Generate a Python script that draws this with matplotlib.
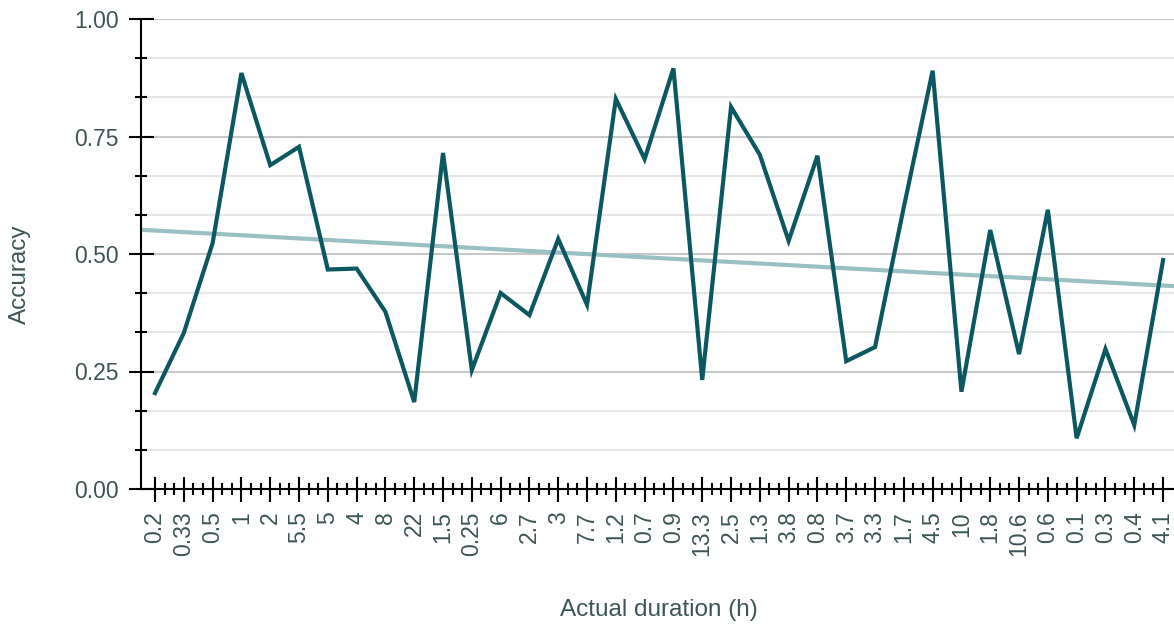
import numpy as np
import matplotlib
matplotlib.use("Agg")
import matplotlib.pyplot as plt
from matplotlib.ticker import FixedLocator

durations = ["0.2", "0.33", "0.5", "1", "2", "5.5", "5", "4", "8", "22",
             "1.5", "0.25", "6", "2.7", "3", "7.7", "1.2", "0.7", "0.9", "13.3",
             "2.5", "1.3", "3.8", "0.8", "3.7", "3.3", "1.7", "4.5", "10", "1.8",
             "10.6", "0.6", "0.1", "0.3", "0.4", "4.1"]
accuracy = [0.204, 0.332, 0.523, 0.885, 0.689, 0.728, 0.467, 0.469, 0.377, 0.185,
            0.715, 0.253, 0.417, 0.370, 0.532, 0.392, 0.830, 0.702, 0.895, 0.232,
            0.813, 0.711, 0.528, 0.709, 0.272, 0.302, 0.600, 0.890, 0.207, 0.551,
            0.287, 0.594, 0.108, 0.298, 0.136, 0.487]

LINE = "#0b5860"
TREND = "#9bc0c4"
TEXT = "#3d5556"

plt.rcParams["font.family"] = ["Liberation Sans", "DejaVu Sans"]

x = np.arange(len(durations))
slope, intercept = np.polyfit(x, accuracy, 1)

fig = plt.figure(figsize=(11.74, 6.26), dpi=100)
ax = fig.add_axes([141 / 1174, 1 - 489 / 626, 1 - 141 / 1174, (489 - 19) / 626])

xlim = (-0.486, 35.38)
xt = np.array(xlim)
ax.plot(xt, slope * xt + intercept, color=TREND, lw=3, zorder=2)
ax.plot(x, accuracy, color=LINE, lw=3, solid_joinstyle="miter", zorder=3)

ax.set_xlim(*xlim)
ax.set_ylim(0, 1)

ax.set_xticks(x)
ax.set_xticklabels(durations, rotation=90, va="top")
minor_x = [i + f for i in x[:-1] for f in (1 / 3, 2 / 3)]
ax.xaxis.set_minor_locator(FixedLocator(minor_x))
ax.set_yticks([0, 0.25, 0.5, 0.75, 1.0])
ax.set_yticklabels(["0.00", "0.25", "0.50", "0.75", "1.00"])
minor_y = [m / 12 for m in range(13) if m % 3]
ax.yaxis.set_minor_locator(FixedLocator(minor_y))

ax.tick_params(which="major", direction="inout", length=18, width=1.5,
               labelsize=16.5, labelcolor=TEXT, color="black")
ax.tick_params(which="minor", direction="inout", length=8.5, width=1.5, color="black")
ax.tick_params(axis="x", which="major", pad=7)
ax.tick_params(axis="y", which="major", pad=7)

ax.grid(axis="y", which="major", color="#c8c8c8", lw=1.5, zorder=0)
ax.grid(axis="y", which="minor", color="#e6e6e6", lw=1.5, zorder=0)
ax.set_axisbelow(True)

for s in ["top", "right"]:
    ax.spines[s].set_visible(False)
for s in ["left", "bottom"]:
    ax.spines[s].set_linewidth(1.5)
    ax.spines[s].set_color("black")

fig.text(659 / 1174, 1 - 610 / 626, "Actual duration (h)", ha="center", va="center",
         fontsize=17.5, color=TEXT)
fig.text(20 / 1174, 1 - 274 / 626, "Accuracy", ha="center", va="center",
         rotation=90, fontsize=17.5, color=TEXT)

fig.savefig("out.png", dpi=100)
